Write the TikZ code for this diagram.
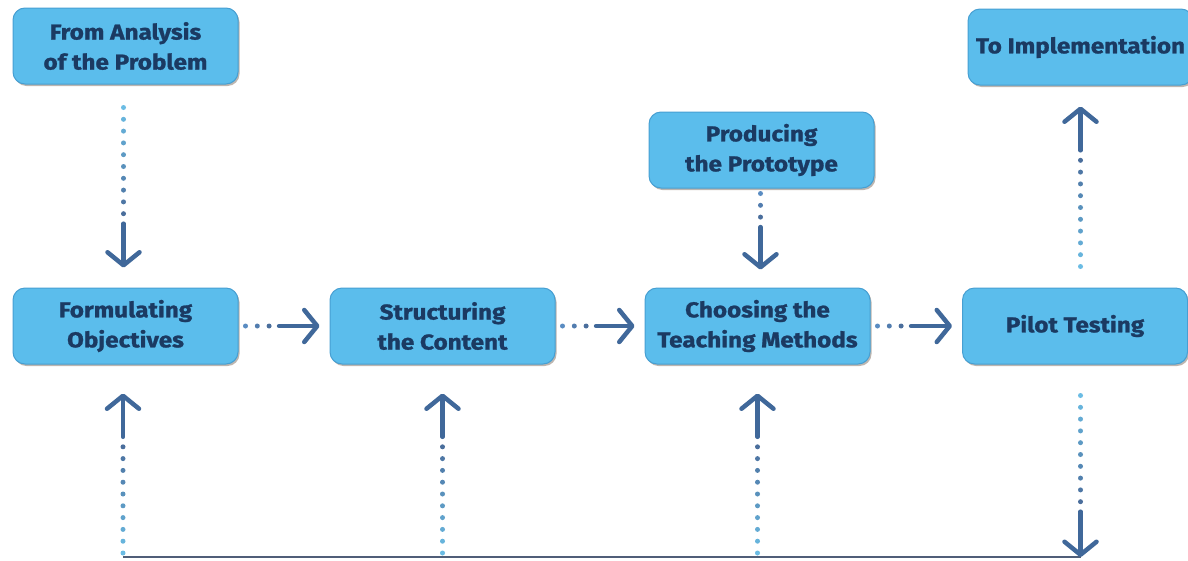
\documentclass[tikz,border=0pt]{standalone}
\usepackage{fontspec}
\setmainfont{Fira Sans}[BoldFeatures={FakeBold=1.2,FakeStretch=1.13}]
\usetikzlibrary{arrows.meta,calc,shadows}
\definecolor{boxfill}{HTML}{5BBDEC}
\definecolor{boxline}{HTML}{479FD2}
\definecolor{txt}{HTML}{1B3A62}
\definecolor{arrc}{HTML}{40689A}
\definecolor{dotlight}{HTML}{6BBCE4}
\definecolor{dotmid}{HTML}{5A8CC2}
\definecolor{dotdark}{HTML}{4A6E9C}
\definecolor{basec}{HTML}{505E78}
\definecolor{shadowc}{HTML}{6E5E50}
\tikzset{
  stepbox/.style={rectangle, rounded corners=12pt, fill=boxfill, draw=boxline,
    line width=1pt, minimum width=225pt, minimum height=76pt, align=center,
    text=txt, font=\fontsize{21.5}{30}\selectfont\bfseries,
    drop shadow={shadow xshift=1.5pt, shadow yshift=-2pt, opacity=0.45, fill=shadowc}},
  arr/.style={draw=arrc, line width=4.5pt, line cap=round,
    -{Straight Barb[length=13pt,width=32pt,round]}},
  baseln/.style={draw=basec, line width=2.5pt},
}
% dotted lead-in followed by a solid arrow: #2 start, #3 tip, #4 number of dots
\newcommand\dotarrow[4][dotlight]{%
  \foreach \i in {1,...,#4}{%
    \pgfmathtruncatemacro\pc{100*(\i-1)/(#4-1)}%
    \fill[dotdark!\pc!#1] ($(#2)!{(\i-1)*11.8pt}!(#3)$) circle (2.5pt);
  }%
  \draw[arr] ($(#2)!{(#4-1)*11.8pt+10pt}!(#3)$) -- (#3);
}
\begin{document}
\begin{tikzpicture}[x=1pt,y=-1pt]
\useasboundingbox (0,0) rectangle (1188,560);
\fill[white] (0,0) rectangle (1188,560);

\node[stepbox] (FA) at (125.5,46) {From Analysis\\of the Problem};
\node[stepbox] (TI) at (1080.5,47) {To Implementation};
\node[stepbox] (PP) at (761.5,150) {Producing\\the Prototype};
\node[stepbox] (FO) at (125.5,326) {Formulating\\Objectives};
\node[stepbox] (SC) at (442.5,326) {Structuring\\the Content};
\node[stepbox] (CT) at (757.5,326) {Choosing the\\Teaching Methods};
\node[stepbox] (PT) at (1075,326) {Pilot Testing};

\coordinate (bl) at (123,557);
\coordinate (br) at (1080.5,557);
\draw[baseln] (bl) -- (br);

% From analysis -> formulating
\coordinate (s1) at ($(FA.south)+(-2,23)$);
\coordinate (t1) at ($(FO.north)+(-2,-20)$);
\dotarrow{s1}{t1}{10}

% Producing -> Choosing
\coordinate (s2) at ($(CT |- PP.south)+(3,5)$);
\coordinate (t2) at ($(CT.north)+(3,-18)$);
\dotarrow[dotmid]{s2}{t2}{3}

% horizontal chain
\coordinate (s3) at ($(FO.east)+(7,0)$);
\coordinate (t3) at ($(SC.west)+(-10,0)$);
\dotarrow[dotmid]{s3}{t3}{3}
\coordinate (s4) at ($(SC.east)+(7,0)$);
\coordinate (t4) at ($(CT.west)+(-10,0)$);
\dotarrow[dotmid]{s4}{t4}{3}
\coordinate (s5) at ($(CT.east)+(7,0)$);
\coordinate (t5) at ($(PT.west)+(-10,0)$);
\dotarrow[dotmid]{s5}{t5}{3}

% Pilot -> Implementation
\coordinate (s6) at ($(TI |- PT.north)+(0,-21)$);
\coordinate (t6) at ($(TI.south)+(0,21)$);
\dotarrow{s6}{t6}{10}

% Pilot -> feedback line
\coordinate (s7) at ($(TI |- PT.south)+(0,31)$);
\dotarrow{s7}{br}{10}

% feedback line -> boxes
\coordinate (s8) at ($(bl)+(0,-4)$);
\coordinate (t8) at ($(bl |- FO.south)+(0,29)$);
\dotarrow{s8}{t8}{10}
\coordinate (s9) at ($(SC |- bl)+(0,-4)$);
\coordinate (t9) at ($(SC.south)+(0,29)$);
\dotarrow{s9}{t9}{10}
\coordinate (s10) at ($(CT |- bl)+(0,-4)$);
\coordinate (t10) at ($(CT.south)+(0,29)$);
\dotarrow{s10}{t10}{10}
\end{tikzpicture}
\end{document}
